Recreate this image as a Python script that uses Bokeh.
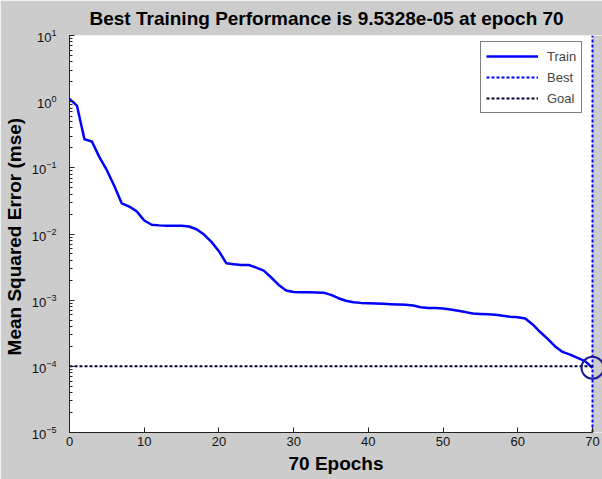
from bokeh.plotting import figure
from bokeh.models import (Legend, LegendItem, BoxAnnotation, FixedTicker,
                          Range1d)
from bokeh.embed import file_html
from bokeh.resources import INLINE

# ---- data ----
epochs = list(range(0, 71))
train_mse = [1.1, 0.87, 0.27, 0.25, 0.145, 0.092, 0.053, 0.029, 0.026, 0.022,
             0.016, 0.0138, 0.0135, 0.0133, 0.0133, 0.0133, 0.013, 0.0118, 0.0098, 0.0076,
             0.0055, 0.0036, 0.0035, 0.0034, 0.0034, 0.0031, 0.0028, 0.0022, 0.0017, 0.0014,
             0.00133, 0.00132, 0.00132, 0.00131, 0.0013, 0.0012, 0.00107, 0.00098, 0.00093, 0.00091,
             0.0009, 0.00089, 0.00088, 0.00087, 0.00086, 0.00085, 0.00083, 0.00078, 0.00076, 0.00076,
             0.00075, 0.00072, 0.00069, 0.00066, 0.00063, 0.00062, 0.00061, 0.0006, 0.00058, 0.00056,
             0.00055, 0.00053, 0.00043, 0.00033, 0.00026, 0.0002, 0.000165, 0.00015, 0.000134, 0.00012,
             9.5328e-05]
best_epoch = 70
best_perf = 9.5328e-05
goal = 1e-4
x_ticks = [0, 10, 20, 30, 40, 50, 60, 70]
y_ticks = [1e-5, 1e-4, 1e-3, 1e-2, 1e-1, 1e0, 1e1]
title_text = "Best Training Performance is 9.5328e-05 at epoch 70"
x_label = "70 Epochs"
y_label = "Mean Squared Error  (mse)"

BG = "#cccccc"
FONT = "Liberation Sans"

p = figure(width=602, height=479, output_backend="svg", toolbar_location=None,
           y_axis_type="log",
           x_range=Range1d(0, 71.34), y_range=Range1d(1e-5, 1e1),
           min_border_left=68, min_border_right=0, min_border_top=35,
           min_border_bottom=47)
p.background_fill_color = "white"
p.border_fill_color = BG
p.outline_line_color = None
p.xgrid.visible = False
p.ygrid.visible = False

# title
p.title.text = title_text
p.title.text_font = FONT
p.title.text_font_size = "19px"
p.title.text_font_style = "bold"
p.title.text_color = "black"
p.title.align = "left"
p.title.offset = 20
p.title.standoff = 10
p.title.vertical_align = "top"

# gray strip right of epoch 70
p.add_layout(BoxAnnotation(left=70, fill_color=BG, fill_alpha=1.0,
                           line_color=None, level="underlay"))

# axes
for ax in (p.xaxis[0], p.yaxis[0]):
    ax.axis_line_color = "#222222"
    ax.major_tick_in = 5
    ax.major_tick_out = 0
    ax.major_tick_line_color = "#222222"
    ax.major_label_text_font = FONT
    ax.major_label_text_font_size = "13px"
    ax.major_label_text_color = "#111111"
    ax.axis_label_text_font = FONT
    ax.axis_label_text_font_size = "19px"
    ax.axis_label_text_font_style = "bold"
    ax.axis_label_text_color = "black"

p.xaxis.ticker = FixedTicker(ticks=x_ticks)
p.xaxis.bounds = (0, 70)
p.xaxis.minor_tick_line_color = None
p.xaxis.major_label_standoff = 4
p.xaxis.axis_label = x_label
p.xaxis.axis_label_standoff = 4

p.yaxis.minor_tick_in = 3
p.yaxis.minor_tick_out = 0
p.yaxis.minor_tick_line_color = "#222222"
p.yaxis.major_label_standoff = 13
p.yaxis.axis_label = y_label
p.yaxis.axis_label_standoff = 4

# lines
r_train = p.line(epochs, train_mse, line_color="#0000ff", line_width=2.5)
r_best = p.line([best_epoch, best_epoch], [y_ticks[0], y_ticks[-1]],
                line_color="#0000ff", line_width=2, line_dash="3 2")
r_goal = p.line([x_ticks[0], x_ticks[-1]], [goal, goal],
                line_color="#000033", line_width=2, line_dash="3 2")
p.scatter([best_epoch], [best_perf], marker="circle", size=22,
          fill_color=None, line_color="#1a1a99", line_width=2)

legend = Legend(items=[LegendItem(label="Train", renderers=[r_train]),
                       LegendItem(label="Best", renderers=[r_best]),
                       LegendItem(label="Goal", renderers=[r_goal])],
                location=(411, 319), margin=0, padding=5, spacing=3,
                glyph_width=52, glyph_height=18, label_height=18,
                label_standoff=9,
                label_text_font=FONT, label_text_font_size="13px",
                border_line_color="black", border_line_width=1,
                background_fill_color="white", background_fill_alpha=1.0)
p.add_layout(legend)

open("out.html", "w").write(file_html(p, INLINE))
